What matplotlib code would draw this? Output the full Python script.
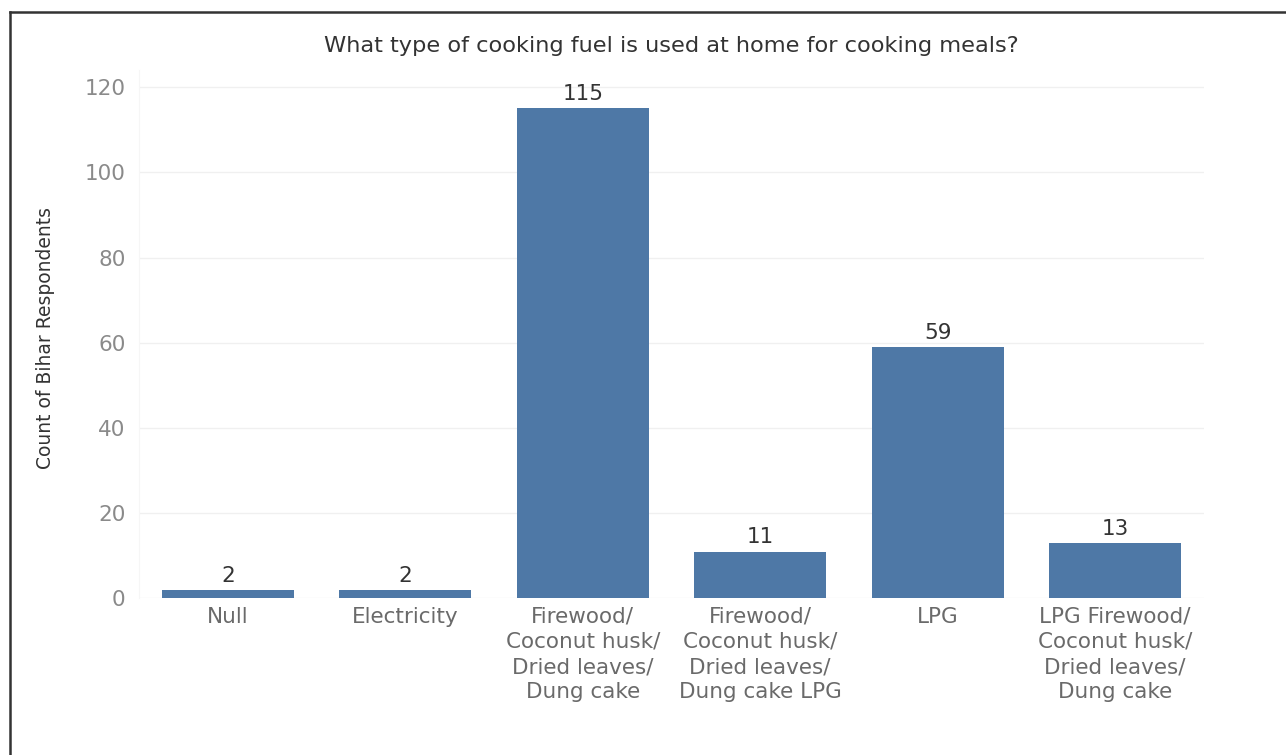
import matplotlib as mpl
import matplotlib.pyplot as plt
from matplotlib.lines import Line2D

mpl.rcParams['font.family'] = ['DejaVu Sans']

# ---------------------------------------------------------------------------- #

categories = ['Null', 'Electricity',
              'Firewood/\nCoconut husk/\nDried leaves/\nDung cake',
              'Firewood/\nCoconut husk/\nDried leaves/\nDung cake LPG',
              'LPG',
              'LPG Firewood/\nCoconut husk/\nDried leaves/\nDung cake']
counts = [2, 2, 115, 11, 59, 13]
yticks = [0, 20, 40, 60, 80, 100, 120]

title = 'What type of cooking fuel is used at home for cooking meals?'
ylabel = 'Count of Bihar Respondents'

bar_color = '#4e78a6'

# ---------------------------------------------------------------------------- #

fig = plt.figure(figsize=(12.86, 7.55), dpi=100)
ax = fig.add_axes([0.1083, 0.2073, 0.8277, 0.700])

x = range(len(categories))
bars = ax.bar(x, counts, width=0.745, color=bar_color, zorder=2)

# Value labels.
for xi, v in zip(x, counts):
    ax.annotate(str(v), (xi, v), xytext=(0, 3), textcoords='offset points',
                ha='center', va='bottom', fontsize=15.5, color='#333333')

ax.set_xlim(-0.5, len(categories) - 0.5)
ax.set_ylim(0, 124)
ax.set_yticks(yticks)
ax.set_xticks(list(x))
ax.set_xticklabels(categories, fontsize=15.5, color='#6a6a6a', linespacing=1.32)
ax.tick_params(axis='y', labelsize=15.5, labelcolor='#8a8a8a', length=0, pad=10)
ax.tick_params(axis='x', length=0, pad=6)

ax.grid(axis='y', color='#f0f0f0', linewidth=1.0, zorder=0)
for s in ['top', 'right', 'bottom']:
    ax.spines[s].set_visible(False)
ax.spines['left'].set_color('#f6f6f6')

ax.set_title(title, fontsize=16.2, color='#333333', pad=13)

fig.text(0.035, 0.552, ylabel, rotation='vertical', va='center', ha='center',
         fontsize=13.5, color='#333333',
         family=['Liberation Sans Narrow', 'DejaVu Sans'])

# Frame around the figure (only top and left visible in the reference).
fig.add_artist(Line2D([10/1286, 10/1286], [0, 1 - 12/755], color='#333333', lw=1.8))
fig.add_artist(Line2D([10/1286, 1], [1 - 12/755, 1 - 12/755], color='#333333', lw=1.8))

plt.savefig('out.png', dpi=100)
